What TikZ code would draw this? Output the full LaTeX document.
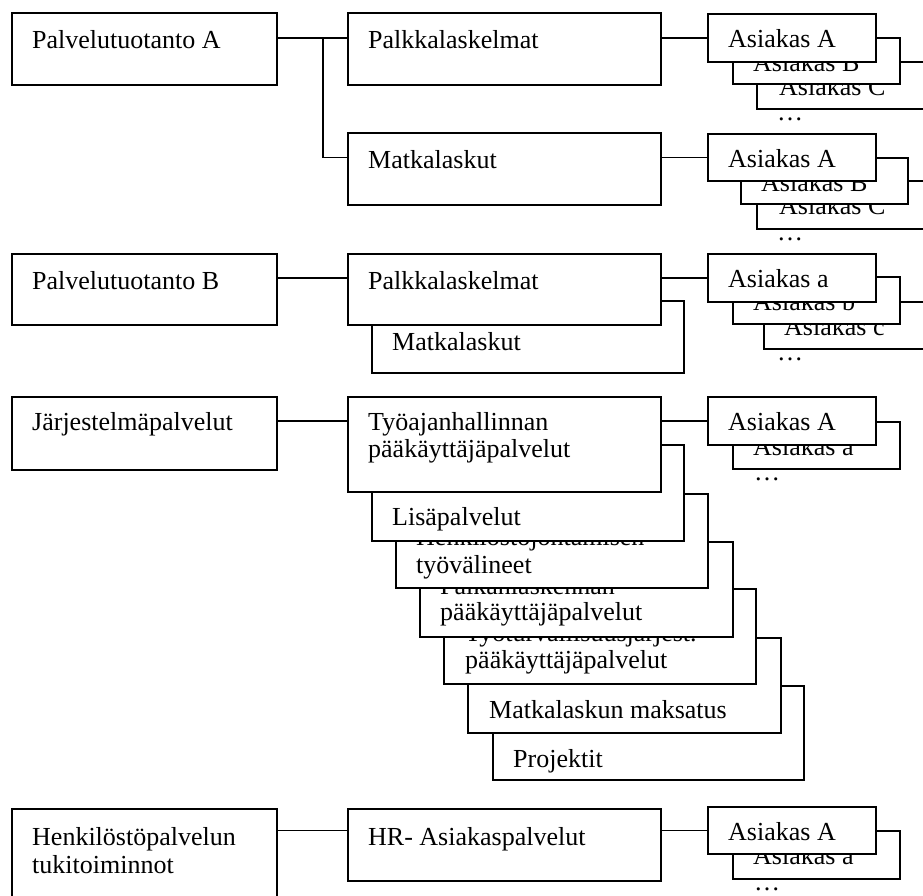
\documentclass[tikz,border=0pt]{standalone}
\usepackage{fontspec}
\setmainfont{Liberation Serif}
\usetikzlibrary{calc}
\tikzset{
  box/.style={draw, line width=1.6pt, fill=white, inner sep=0pt, anchor=north west},
  txt/.style={anchor=base west, inner sep=0pt, font=\fontsize{26}{30}\selectfont},
  link/.style={line width=1.6pt},
}
% \bx{name}{left}{top}{right}{bottom}
\newcommand{\bx}[5]{\node[box, minimum width=#4-#2, minimum height=#5-#3] (#1) at (#2,#3) {};}
% \tx{name}{box}{dx}{dy}{text}
\newcommand{\tx}[5]{\node[txt] (#1) at ($(#2.north west)+(#3,#4)$) {#5};}
\begin{document}
\begin{tikzpicture}[x=1pt, y=-1pt]
\path[use as bounding box] (0,0) rectangle (923,895);
\clip (0,0) rectangle (923,895);

% ---------- Palvelutuotanto A ----------
\bx{pa}{11}{12}{276}{84}      \tx{tpa}{pa}{21}{36}{Palvelutuotanto A}
\bx{pa1}{347}{12}{660}{84}    \tx{tpa1}{pa1}{21}{36}{Palkkalaskelmat}
\bx{pa2}{347}{132}{660}{204}  \tx{tpa2}{pa2}{21}{36}{Matkalaskut}

\bx{a1c}{756}{61}{935}{108}   \tx{ta1c}{a1c}{23}{34}{Asiakas C}
\bx{a1b}{732}{37}{899}{83}    \tx{ta1b}{a1b}{21}{34}{Asiakas B}
\bx{a1a}{707}{13}{875}{61}    \tx{ta1a}{a1a}{21}{34}{Asiakas A}
\node[txt] (d1) at ($(a1c.south west)+(21,11)$) {…};

\bx{a2c}{756}{180}{935}{228}  \tx{ta2c}{a2c}{23}{34}{Asiakas C}
\bx{a2b}{740}{157}{907}{203}  \tx{ta2b}{a2b}{21}{34}{Asiakas B}
\bx{a2a}{707}{133}{875}{180}  \tx{ta2a}{a2a}{21}{34}{Asiakas A}
\node[txt] (d2) at ($(a2c.south west)+(21,11)$) {…};

\coordinate (fork) at (323,0);
\draw[link] (pa.east |- a1a.west) -- (pa1.west |- a1a.west);
\draw[link] (fork |- a1a.west) -- (fork |- a2a.west) -- (pa2.west |- a2a.west);
\draw[link] (pa1.east |- a1a.west) -- (a1a.west);
\draw[link] (pa2.east |- a2a.west) -- (a2a.west);

% ---------- Palvelutuotanto B ----------
\bx{pb}{11}{253}{276}{324}    \tx{tpb}{pb}{21}{36}{Palvelutuotanto B}
\bx{pb2}{371}{300}{683}{372}  \tx{tpb2}{pb2}{21}{50}{Matkalaskut}
\bx{pb1}{347}{253}{660}{324}  \tx{tpb1}{pb1}{21}{36}{Palkkalaskelmat}

\bx{b1c}{763}{301}{935}{348}  \tx{tb1c}{b1c}{21}{34}{Asiakas c}
\bx{b1b}{732}{276}{899}{323}  \tx{tb1b}{b1b}{21}{34}{Asiakas b}
\bx{b1a}{707}{253}{875}{301}  \tx{tb1a}{b1a}{21}{34}{Asiakas a}
\node[txt] (d3) at ($(b1c.south west)+(14,11)$) {…};

\draw[link] (pb.east |- b1a.west) -- (pb1.west |- b1a.west);
\draw[link] (pb1.east |- b1a.west) -- (b1a.west);

% ---------- Järjestelmäpalvelut ----------
\bx{jp}{11}{396}{276}{469}    \tx{tjp}{jp}{21}{34}{Järjestelmäpalvelut}

\bx{s7}{492}{685}{803}{779}   \tx{ts7}{s7}{21}{82}{Projektit}
\bx{s6}{467}{637}{780}{732}   \tx{ts6}{s6}{22}{81}{Matkalaskun maksatus}
\bx{s5}{443}{588}{755}{683}   \tx{ts5a}{s5}{22}{53}{Työturvallisuusjärjest.}
                              \tx{ts5b}{s5}{22}{80}{pääkäyttäjäpalvelut}
\bx{s4}{419}{541}{732}{636}   \tx{ts4a}{s4}{21}{53}{Palkanlaskennan}
                              \tx{ts4b}{s4}{21}{79}{pääkäyttäjäpalvelut}
\bx{s3}{395}{493}{707}{587}   \tx{ts3a}{s3}{21}{52}{Henkilöstöjohtamisen}
                              \tx{ts3b}{s3}{21}{80}{työvälineet}
\bx{s2}{371}{444}{683}{540}   \tx{ts2}{s2}{21}{81}{Lisäpalvelut}
\bx{s1}{347}{396}{660}{491}   \tx{ts1a}{s1}{21}{34}{Työajanhallinnan}
                              \tx{ts1b}{s1}{21}{61}{pääkäyttäjäpalvelut}

\bx{c1b}{732}{421}{899}{468}  \tx{tc1b}{c1b}{21}{34}{Asiakas a}
\bx{c1a}{707}{396}{875}{444}  \tx{tc1a}{c1a}{21}{34}{Asiakas A}
\node[txt] (d4) at ($(c1b.south west)+(22,11)$) {…};

\draw[link] (jp.east |- c1a.west) -- (s1.west |- c1a.west);
\draw[link] (s1.east |- c1a.west) -- (c1a.west);

% ---------- Henkilöstöpalvelun tukitoiminnot ----------
\bx{hp}{11}{808}{276}{910}    \tx{thpa}{hp}{21}{37}{Henkilöstöpalvelun}
                              \tx{thpb}{hp}{21}{65}{tukitoiminnot}
\bx{hr}{347}{808}{660}{880}   \tx{thr}{hr}{21}{37}{HR- Asiakaspalvelut}

\bx{e1b}{732}{830}{899}{878}  \tx{te1b}{e1b}{21}{34}{Asiakas a}
\bx{e1a}{707}{806}{875}{853}  \tx{te1a}{e1a}{21}{34}{Asiakas A}
\node[txt] (d5) at ($(e1b.south west)+(22,11)$) {…};

\draw[link] (hp.east |- e1a.west) -- (hr.west |- e1a.west);
\draw[link] (hr.east |- e1a.west) -- (e1a.west);
\end{tikzpicture}
\end{document}
